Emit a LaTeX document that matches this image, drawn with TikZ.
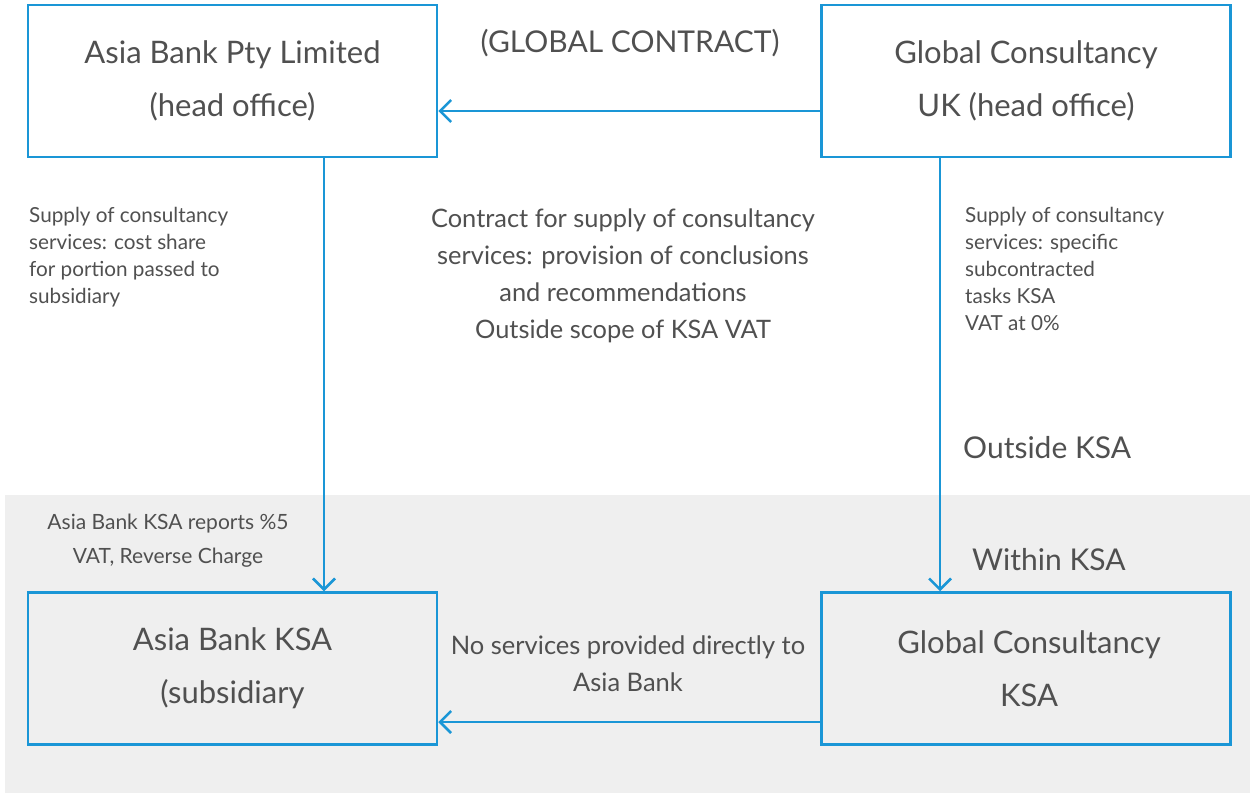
\documentclass[tikz,border=0pt]{standalone}
\usepackage{fontspec}
\setmainfont{Lato}
\usetikzlibrary{arrows.meta,calc}
\definecolor{lineblue}{RGB}{26,150,214}
\definecolor{inkgray}{RGB}{80,80,80}
\definecolor{zonegray}{RGB}{239,239,239}
\begin{document}
\begin{tikzpicture}[x=1pt,y=-1pt,
  entity/.style={draw=lineblue,line width=2.5pt,fill=none,minimum width=409pt,
    minimum height=152pt,inner sep=0pt,align=center,text=inkgray,
    font=\fontsize{31}{53}\selectfont},
  flow/.style={draw=lineblue,line width=2.5pt,
    -{Straight Barb[length=11pt,width=22pt,line width=2.5pt]}},
  note/.style={text=inkgray,inner sep=0pt,font=\fontsize{20.7}{27}\selectfont},
  midnote/.style={text=inkgray,inner sep=0pt,align=center,font=\fontsize{25.4}{37}\selectfont},
  region/.style={text=inkgray,inner sep=0pt,font=\fontsize{30}{34}\selectfont}]

% canvas and the KSA zone
\fill[white] (0,0) rectangle (1250,793);
\fill[zonegray] (5,495) rectangle (1250,793);
\useasboundingbox (0,0) rectangle (1250,793);

% entities
\node[entity] (hq)   at (232.5,81)    {Asia Bank Pty Limited\\(head office)};
\node[entity] (gcuk) at (1026,81)     {Global Consultancy\\UK (head office)};
\node[entity] (sub)  at (232.5,668.5) {Asia Bank KSA\\(subsidiary};
\node[entity] (gcksa) at (1026,668.5) {\hspace*{6pt}Global Consultancy\\\hspace*{6pt}KSA};

% flows
\draw[flow] ($(gcuk.west)+(0,30)$) -- ($(hq.east)+(0,30)$);
\draw[flow] ($(hq.south)+(91.5,0)$) -- ($(sub.north)+(91.5,0)$);
\draw[flow] ($(gcuk.south)+(-86,0)$) -- ($(gcksa.north)+(-86,0)$);
\draw[flow] ($(gcksa.west)+(0,53.5)$) -- ($(sub.east)+(0,53.5)$);

% labels
\node[region] (global) at (630,43) {(GLOBAL CONTRACT)};
\node[note,anchor=north west,align=left] (leftnote) at (29,207)
  {Supply of consultancy\\services: cost share\\for portion passed to\\subsidiary};
\node[midnote,anchor=north] (contract) at (623,209)
  {Contract for supply of consultancy\\services: provision of conclusions\\and recommendations\\Outside scope of KSA VAT};
\node[note,anchor=north west,align=left] (rightnote) at (965,207)
  {Supply of consultancy\\services: specific\\subcontracted\\tasks KSA\\VAT at 0\%};
\node[region,anchor=west] (outside) at (963,448) {Outside KSA};
\node[region,anchor=west] (within) at (972,560) {Within KSA};
\node[note,anchor=north,align=center,font=\fontsize{21}{34}\selectfont] (reverse) at (168,514)
  {Asia Bank KSA reports \%5\\VAT, Reverse Charge};
\node[midnote,anchor=north,font=\fontsize{25.5}{37}\selectfont] (noserv) at (628,636)
  {No services provided directly to\\Asia Bank};
\end{tikzpicture}
\end{document}
